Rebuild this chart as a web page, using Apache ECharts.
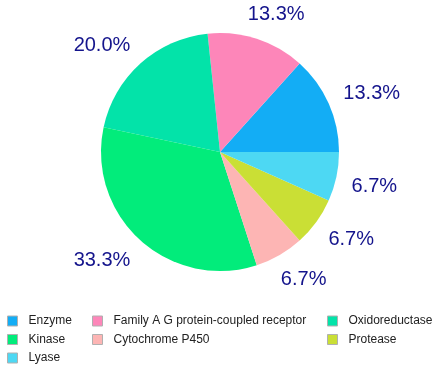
<!DOCTYPE html>
<html>
<head>
<meta charset="utf-8">
<script src="https://cdn.jsdelivr.net/npm/echarts@6/dist/echarts.min.js"></script>
<style>
  html, body { margin: 0; padding: 0; background: #fff; }
  #chart { width: 438px; height: 367px; }
</style>
</head>
<body>
<div id="chart"></div>
<script>
// Data (15 proteins in total)
const categories = [
  'Enzyme',
  'Family A G protein-coupled receptor',
  'Oxidoreductase',
  'Kinase',
  'Cytochrome P450',
  'Protease',
  'Lyase'
];
const counts = [2, 2, 3, 5, 1, 1, 1];
const colors = ['#13adf5', '#fd86b9', '#03e3a9', '#02ec7b', '#fdb5b4', '#cadf35', '#4dd8f3'];

// legend columns, as laid out in the original
const legendCols = [
  ['Enzyme', 'Kinase', 'Lyase'],
  ['Family A G protein-coupled receptor', 'Cytochrome P450'],
  ['Oxidoreductase', 'Protease']
];

var chartDom = document.getElementById('chart');
var myChart = echarts.init(chartDom);

const total = counts.reduce((a, b) => a + b, 0);
const cx = 220, cy = 152, radius = 119;
const labelGap = 15;
// small angular nudges (degrees) so labels sit where the original put them
const labelNudge = [-1, 6, 0, 0, -3, 0, 1];

const legendLeft = [7, 92, 327];
const legends = legendCols.map((names, k) => ({
  data: names,
  orient: 'vertical',
  left: legendLeft[k],
  top: 315,
  padding: 0,
  itemWidth: 22,
  itemHeight: 10,
  itemGap: 6.5,
  icon: 'path://M0,0h10v10h-10z',
  itemStyle: { borderColor: '#b0b0b0', borderWidth: 1 },
  selectedMode: false,
  textStyle: { fontFamily: 'Liberation Sans', fontSize: 12, lineHeight: 12, color: '#222' }
}));

var option = {
  animation: false,
  color: colors,
  legend: legends,
  series: [{
    type: 'pie',
    center: [cx, cy],
    radius: radius,
    startAngle: 0,
    clockwise: false,
    avoidLabelOverlap: false,
    data: categories.map((name, i) => ({ name: name, value: counts[i] })),
    itemStyle: { borderWidth: 0 },
    label: {
      show: true,
      position: 'outside',
      fontFamily: 'Liberation Sans',
      fontSize: 20,
      lineHeight: 20,
      color: '#14148c',
      formatter: (p) => (p.value / total * 100).toFixed(1) + '%'
    },
    labelLine: { show: false },
    // put the label's nearest corner just outside the slice's middle
    labelLayout: function (p) {
      const i = p.dataIndex;
      let before = 0;
      for (let k = 0; k < i; k++) before += counts[k];
      const mid = (before + counts[i] / 2) / total * 360 + labelNudge[i];
      const a = mid * Math.PI / 180;
      const px = cx + (radius + labelGap) * Math.cos(a);
      const py = cy - (radius + labelGap) * Math.sin(a);
      const w = p.labelRect.width, h = 15;
      return {
        x: px + Math.sign(Math.cos(a)) * w / 2,
        y: py - Math.sign(Math.sin(a)) * h / 2 + 1,
        align: 'center',
        verticalAlign: 'middle'
      };
    }
  }]
};

option && myChart.setOption(option);
</script>
</body>
</html>
